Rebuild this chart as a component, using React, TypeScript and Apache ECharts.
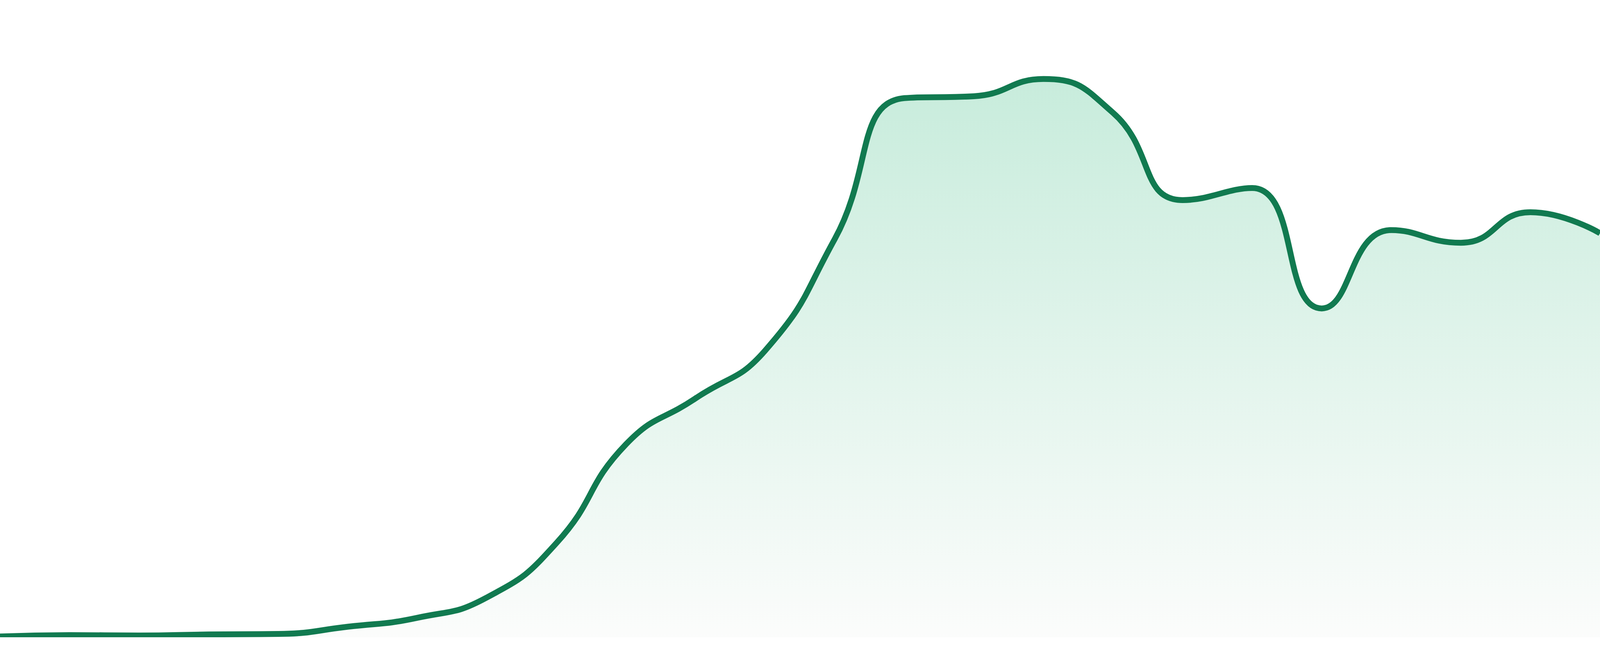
import { useEffect, useRef } from "react";
import * as echarts from "echarts";

// 24 evenly spaced periods, first and last sit on the chart edges
const periods = [
  "P01", "P02", "P03", "P04", "P05", "P06", "P07", "P08",
  "P09", "P10", "P11", "P12", "P13", "P14", "P15", "P16",
  "P17", "P18", "P19", "P20", "P21", "P22", "P23", "P24",
];

// values (0..100 scale)
const values = [
  0.12, 0.34, 0.28, 0.44, 0.52, 1.65, 3.06, 6.25,
  14.8, 30.3, 37.5, 45.0, 62.5, 84.6, 84.9, 87.6,
  82.3, 68.6, 70.5, 51.6, 63.9, 61.9, 66.7, 63.4,
];

const LINE_COLOR = "#117a50";
const FILL_TOP = "#b0e4cd";
const FILL_BOTTOM = "#fafbfa";

export default function App() {
  const chartRef = useRef<HTMLDivElement>(null);

  useEffect(() => {
    const myChart = echarts.init(chartRef.current!, null, { renderer: "svg" });

    const option = {
      animation: false,
      backgroundColor: "#ffffff",
      grid: { left: 0, right: 0, top: 0, bottom: 0 },
      xAxis: {
        type: "category",
        boundaryGap: false,
        data: periods,
        show: false,
      },
      yAxis: {
        type: "value",
        min: 0,
        max: 100,
        show: false,
      },
      series: [
        {
          type: "line",
          data: values,
          smooth: true,
          symbol: "none",
          lineStyle: { color: LINE_COLOR, width: 15 },
          areaStyle: {
            color: new echarts.graphic.LinearGradient(0, 0, 0, 1, [
              { offset: 0, color: FILL_TOP },
              { offset: 1, color: FILL_BOTTOM },
            ]),
          },
        },
      ],
    };

    myChart.setOption(option);

    const handleResize = () => myChart.resize();
    window.addEventListener("resize", handleResize);

    return () => {
      window.removeEventListener("resize", handleResize);
      myChart.dispose();
    };
  }, []);

  // plot area ends a little above the bottom of the window
  return (
    <div
      ref={chartRef}
      style={{ position: "fixed", left: 0, top: 0, width: "100vw", height: "calc(100vh - 48px)" }}
    />
  );
}
